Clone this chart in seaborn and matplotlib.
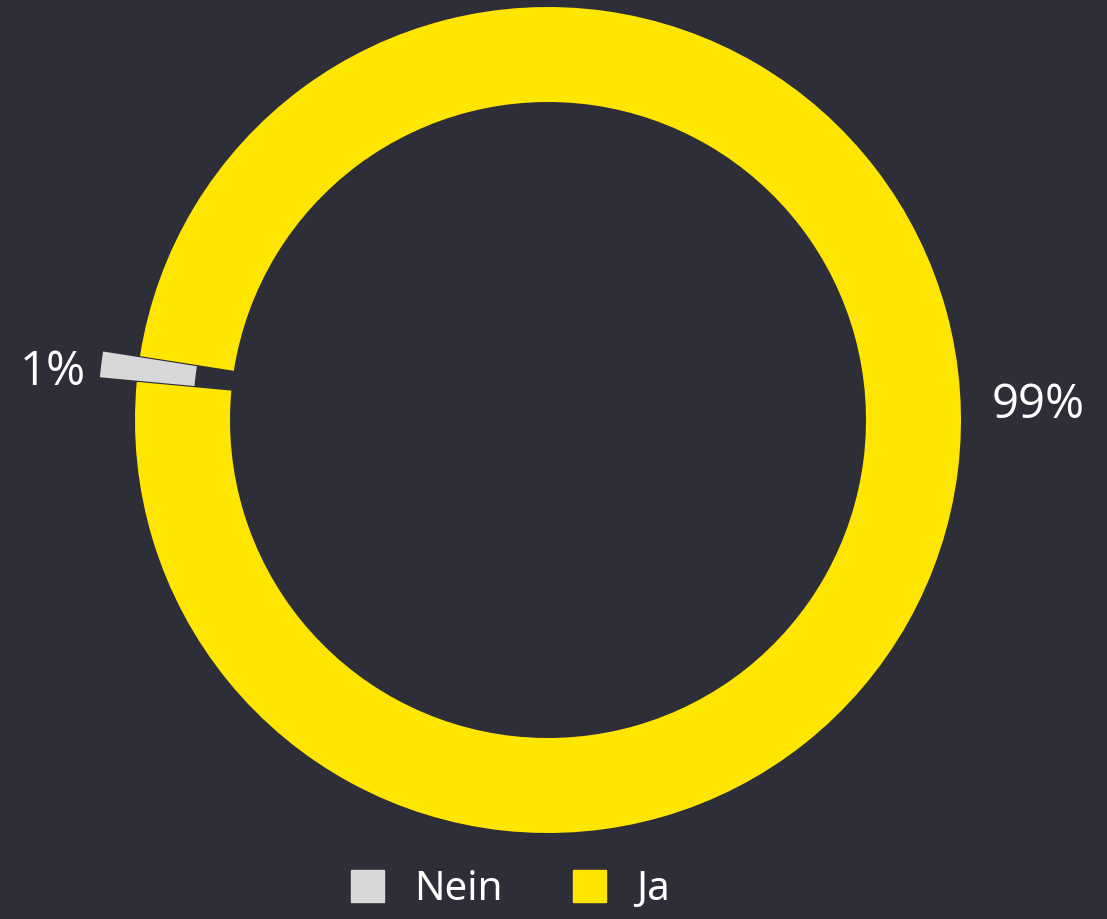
import matplotlib
matplotlib.use("Agg")
import matplotlib.pyplot as plt
import matplotlib.patches as mpatches
import numpy as np
import seaborn as sns

categories = ["Nein", "Ja"]
values = [1, 99]
label_texts = ["1%", "99%"]
colors = ["#d8d8d8", "#ffe600"]

BG = "#2e2e38"
sns.set_theme(style="dark")
plt.rcParams["font.family"] = ["Noto Sans", "DejaVu Sans"]
plt.rcParams["figure.facecolor"] = BG
plt.rcParams["axes.facecolor"] = BG

W, H = 1107, 919
fig = plt.figure(figsize=(W / 100, H / 100), dpi=100)
ax = fig.add_axes([0, 0, 1, 1])
ax.set_facecolor(BG)

R = 413.0          # outer radius in pixels
cx, cy = 548.0, 420.0  # centre in pixels (from top)
inner = 318.0 / R
width = 1 - inner

wedges, _ = ax.pie(
    values,
    colors=colors,
    startangle=171.1,
    counterclock=True,
    explode=[0.09, 0.0],
    radius=1.0,
    wedgeprops=dict(width=width, linewidth=0),
)

ax.set_xlim(-cx / R, (W - cx) / R)
ax.set_ylim(-(H - cy) / R, cy / R)
ax.set_aspect("auto")
ax.axis("off")

# data labels
label_pos = [(-1.2, 0.115), (1.187, 0.035)]
for (x, y), t in zip(label_pos, label_texts):
    ax.text(x, y, t, color="white", fontsize=34, ha="center", va="center",
            family=["Open Sans", "DejaVu Sans"])

handles = [mpatches.Patch(color=c, label=l) for c, l in zip(colors, categories)]
fig.legend(
    handles=handles,
    loc="upper left",
    bbox_to_anchor=(351 / W, 1 - 870 / H),
    ncol=2,
    frameon=False,
    fontsize=29,
    labelcolor="white",
    handlelength=0.82,
    handleheight=0.82,
    handletextpad=0.75,
    columnspacing=1.75,
    borderpad=0,
    borderaxespad=0,
)

fig.savefig("out.png", dpi=100, facecolor=BG)
